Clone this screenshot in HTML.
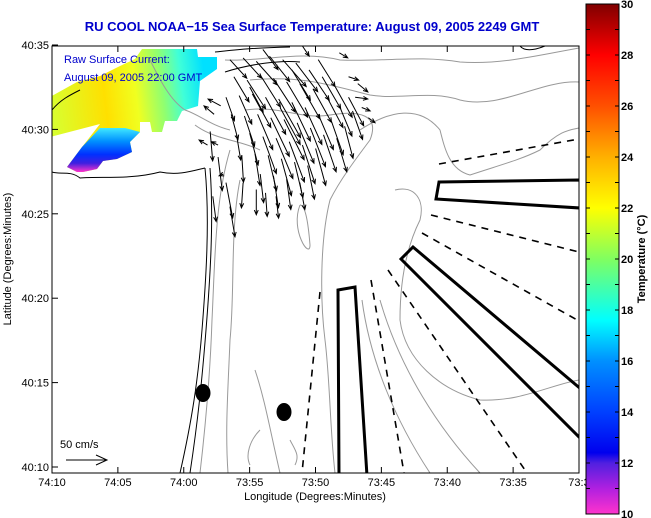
<!DOCTYPE html>
<html><head><meta charset="utf-8"><style>
body{margin:0;background:#fff;width:651px;height:518px;overflow:hidden}
svg{display:block;font-family:"Liberation Sans",sans-serif}
</style></head><body>
<svg width="651" height="518" viewBox="0 0 651 518">
<defs>
<linearGradient id="cb" x1="0" y1="1" x2="0" y2="0">
<stop offset="0" stop-color="#ff33cc"/><stop offset="0.05" stop-color="#b020e0"/><stop offset="0.1" stop-color="#5020e0"/><stop offset="0.12" stop-color="#0000ee"/>
<stop offset="0.2" stop-color="#0040ff"/><stop offset="0.3" stop-color="#0090ff"/><stop offset="0.38" stop-color="#00ffff"/><stop offset="0.5" stop-color="#80ff60"/>
<stop offset="0.6" stop-color="#ffff00"/><stop offset="0.7" stop-color="#ffb000"/><stop offset="0.8" stop-color="#ff5000"/><stop offset="0.9" stop-color="#ff0000"/><stop offset="1" stop-color="#800000"/>
</linearGradient>
<linearGradient id="sstA" gradientUnits="userSpaceOnUse" x1="50" y1="100" x2="205" y2="80">
<stop offset="0" stop-color="#d8ff30"/><stop offset="0.35" stop-color="#ffe000"/><stop offset="0.55" stop-color="#f0ff20"/><stop offset="0.72" stop-color="#90ff70"/><stop offset="0.85" stop-color="#40ffd8"/><stop offset="1" stop-color="#00e0ff"/>
</linearGradient>
<linearGradient id="sstB" gradientUnits="userSpaceOnUse" x1="0" y1="128" x2="0" y2="172">
<stop offset="0" stop-color="#40e8ff"/><stop offset="0.3" stop-color="#0090ff"/><stop offset="0.6" stop-color="#0030ff"/><stop offset="0.8" stop-color="#4020e0"/><stop offset="1" stop-color="#ff33cc"/>
</linearGradient>
<clipPath id="plotclip"><rect x="52" y="46" width="527" height="427"/></clipPath>
</defs>
<text x="312" y="31" text-anchor="middle" font-size="13" font-weight="bold" fill="#0000cc">RU COOL  NOAA−15  Sea Surface Temperature:  August 09, 2005 2249 GMT</text>
<g clip-path="url(#plotclip)">
<polygon fill="url(#sstA)" points="50,97 77,82 100,76 120,66 135,59 142,49 197,49 198,57 217,57 217,69 200,81 198,106 182,111 177,121 165,121 162,132 152,132 150,122 140,122 140,132 130,142 132,152 117,159 103,161 97,169 83,172 77,172 67,167 82,147 100,124 50,137"/>
<polygon fill="url(#sstB)" points="82,147 100,128 125,128 140,132 130,142 132,152 117,159 103,161 97,169 83,172 77,172 67,167"/>
<g fill="none" stroke="#999" stroke-width="1">
<path d="M225,60 C260,62 300,50 340,60 C380,62 420,55 460,62 C500,65 540,55 579,48"/>
<path d="M250,80 C300,75 330,85 370,95 C400,100 430,90 460,100 C500,110 540,80 579,82"/>
<path d="M245,110 C280,105 300,120 330,115 C360,110 380,115 370,140 C355,160 340,180 330,200 C320,240 320,300 325,340 C330,380 330,430 335,473"/>
<path d="M360,130 C390,110 420,105 440,130 C445,150 450,170 470,175 C500,165 520,160 540,150 C560,130 570,130 579,128"/>
<path d="M395,190 C415,185 425,200 420,220 C410,240 400,270 400,320 C405,360 440,390 480,400 C520,402 550,385 579,380"/>
<path d="M230,150 C215,200 215,260 212,320 C210,380 205,430 200,473"/>
<path d="M240,180 C230,230 235,290 230,340 C228,390 225,430 228,473"/>
<path d="M300,205 C290,230 310,260 310,245 C308,220 305,205 300,205"/>
<path d="M362,300 C370,360 395,420 430,473"/>
<path d="M380,300 C400,370 440,430 480,473"/>
<path d="M255,370 C265,400 270,430 280,473 M260,430 C250,440 245,455 250,465 M290,440 C295,450 300,455 295,465"/>
<path d="M150,60 C160,80 170,100 185,110 C200,115 210,125 230,130 M195,125 C215,140 240,140 260,150"/>
</g>
<g fill="none" stroke="#000" stroke-width="1">
<path d="M52,172 C60,175 70,170 80,178 C100,176 130,180 160,172 C180,176 195,170 205,168"/>
<path d="M205,168 C210,220 206,280 202,330 C198,380 192,420 180,473"/>
<path d="M210,168 C214,220 210,280 206,330 C202,380 198,420 190,473"/>
<path d="M52,110 C60,100 70,95 80,90 M215,52 C235,50 250,48 290,47 M225,72 C250,64 280,60 300,62 M520,46 C525,52 535,50 545,46"/>
</g>
</g>
<g id="vecs"></g>
<g fill="none" stroke="#000" stroke-width="3" clip-path="url(#plotclip)">
<polygon points="439,182 580,180 580,208 436,199"/>
<polygon points="401,259 413,247 582,390 582,440"/>
<polygon points="338,290 355,287 367,476 339,476"/>
</g>
<g fill="none" stroke="#000" stroke-width="1.6" stroke-dasharray="7,6">
<line x1="439" y1="164" x2="579" y2="139"/>
<line x1="431" y1="215" x2="579" y2="252"/>
<line x1="422" y1="233" x2="579" y2="321"/>
<line x1="388" y1="270" x2="527" y2="473"/>
<line x1="371" y1="280" x2="404" y2="473"/>
<line x1="320" y1="292" x2="302" y2="473"/>
</g>
<ellipse cx="203" cy="393" rx="7.5" ry="9"/>
<ellipse cx="284" cy="412" rx="7.5" ry="9"/>
<text x="64" y="63" font-size="11" fill="#0000cc">Raw Surface Current:</text>
<text x="64" y="81" font-size="11" fill="#0000cc">August 09, 2005 22:00 GMT</text>
<text x="60" y="448" font-size="11">50 cm/s</text>
<g stroke="#000" fill="none"><line x1="66" y1="460" x2="107" y2="460"/><polyline points="96,455 107,460 96,465"/></g>
<rect x="52" y="46" width="527" height="427" fill="none" stroke="#000" stroke-width="1"/>
<g id="axes" font-size="11"></g>
<text x="315" y="500" text-anchor="middle" font-size="11">Longitude (Degrees:Minutes)</text>
<text transform="translate(11,259) rotate(-90)" text-anchor="middle" font-size="11">Latitude (Degrees:Minutes)</text>
<rect x="586" y="4" width="33" height="510" fill="url(#cb)" stroke="#000"/>
<g id="cbticks" font-size="11" font-weight="bold"></g>
<text transform="translate(645,259) rotate(-90)" text-anchor="middle" font-size="11" font-weight="bold">Temperature (°C)</text>
</svg>
<script>
const xTickLabels=["74:10","74:05","74:00","73:55","73:50","73:45","73:40","73:35","73:3"];
const yTickLabels=["40:10","40:15","40:20","40:25","40:30","40:35"];
const cbLabels=[10,12,14,16,18,20,22,24,26,28,30];
// vectors: minutes east of 74:10, minutes north of 40:10, u, v (cm/s)
const vecLon=[13.5,14.5,15.5,16.5,17.5,18.5,19.5,20.5,21.5,22.5,13.8,14.8,15.8,16.8,17.8,18.8,19.8,20.8,21.8,22.8,13.2,14.2,15.2,16.2,17.2,18.2,19.2,20.2,21.2,22.2,13.6,14.6,15.6,16.6,17.6,18.6,19.6,20.6,21.6,14.0,15.0,16.0,17.0,18.0,19.0,20.0,14.4,15.4,16.4,17.4,18.4,19.4,15.8,16.8,17.8,18.8,14.5,15.5,16.2,17.0,12.8,12.6,13.0,23.5,24.0,23.2,12.0,12.6,13.2,12.2,13.5,11.8,12.3,22.5,23.0,21.8,19.0,16.0,18.2,20.2,15.0,17.3];
const vecLat=[24.2,24.3,24.1,24.4,24.2,24.0,23.6,23.2,22.6,22.0,23.2,23.0,23.3,23.1,22.9,22.8,22.5,22.1,21.5,21.2,22.0,22.1,22.2,22.0,21.9,21.7,21.4,21.0,20.6,20.3,21.0,20.9,21.0,20.8,20.7,20.5,20.2,19.8,19.6,19.8,19.9,19.7,19.6,19.4,19.2,19.0,18.6,18.7,18.6,18.4,18.2,18.0,17.5,17.4,17.2,17.0,17.0,16.6,16.4,16.2,21.5,19.2,17.5,21.4,20.8,22.8,20.0,18.5,17.0,16.2,15.6,19.2,21.0,23.2,22.0,24.6,25.0,24.8,23.6,24.2,22.6,21.4];
const vecU=[20,22,25,24,28,26,24,22,20,18,18,22,24,26,25,24,22,20,15,12,10,15,22,24,26,22,20,18,14,10,8,12,18,22,24,20,18,15,12,5,10,16,20,18,15,12,2,6,10,12,10,8,4,6,5,6,-2,0,2,3,-15,-8,-5,10,8,12,3,5,8,4,6,-10,-12,12,15,10,8,18,22,20,16,24];
const vecV=[-22,-24,-28,-30,-32,-34,-36,-38,-36,-34,-30,-34,-38,-40,-42,-42,-40,-38,-36,-34,-28,-34,-40,-44,-46,-46,-44,-42,-40,-38,-30,-36,-42,-46,-48,-48,-46,-44,-40,-30,-38,-44,-48,-48,-46,-44,-32,-38,-42,-44,-42,-40,-34,-38,-36,-32,-30,-30,-28,-26,8,4,-2,-4,-6,-10,-35,-40,-42,-30,-36,6,10,-4,-2,-6,-12,-24,-36,-32,-30,-44];
const X0=52,PXM=13.18,Y0=473,PYM=17.08,PXS=42/50;
const ns="http://www.w3.org/2000/svg";
function xs(m){return X0+m*PXM}
function ys(n){return Y0-n*PYM}
const vg=document.getElementById('vecs');
for(let i=0;i<vecLon.length;i++){
 const x1=xs(vecLon[i]),y1=ys(vecLat[i]);
 const x2=x1+vecU[i]*PXS,y2=y1-vecV[i]*PXS;
 const a=Math.atan2(y2-y1,x2-x1),h=5;
 const p=document.createElementNS(ns,'path');
 
 
 p.setAttribute('d',`M${x1},${y1}L${x2},${y2}M${x2-h*Math.cos(a-0.4)},${y2-h*Math.sin(a-0.4)}L${x2},${y2}L${x2-h*Math.cos(a+0.4)},${y2-h*Math.sin(a+0.4)}`);
 p.setAttribute('stroke','#000');p.setAttribute('fill','none');p.setAttribute('stroke-width','1');
 vg.appendChild(p);
}
const ax=document.getElementById('axes');
xTickLabels.forEach((t,i)=>{
 const x=X0+i*(527/8);
 const l=document.createElementNS(ns,'line');
 
 
 l.setAttribute('x1',x);l.setAttribute('x2',x);l.setAttribute('y1',473);l.setAttribute('y2',467);l.setAttribute('stroke','#000');ax.appendChild(l);
 const l2=l.cloneNode();l2.setAttribute('y1',46);l2.setAttribute('y2',52);ax.appendChild(l2);
 const tx=document.createElementNS(ns,'text');
 
 
 tx.setAttribute('x',x);tx.setAttribute('y',486);tx.setAttribute('text-anchor','middle');tx.textContent=t;ax.appendChild(tx);
});
yTickLabels.forEach((t,i)=>{
 const y=467-i*(422/5);
 const l=document.createElementNS(ns,'line');
 
 
 l.setAttribute('x1',52);l.setAttribute('x2',58);l.setAttribute('y1',y);l.setAttribute('y2',y);l.setAttribute('stroke','#000');ax.appendChild(l);
 const tx=document.createElementNS(ns,'text');
 
 
 tx.setAttribute('x',49);tx.setAttribute('y',y+4);tx.setAttribute('text-anchor','end');tx.textContent=t;ax.appendChild(tx);
});
const cg=document.getElementById('cbticks');
for(let v=10;v<=30;v++){
 const y=514-(v-10)*25.5;
 const l=document.createElementNS(ns,'path');
 
 
 l.setAttribute('d',`M586,${y}h4M619,${y}h-4`);l.setAttribute('stroke','#000');cg.appendChild(l);
}
cbLabels.forEach(v=>{
 const y=514-(v-10)*25.5;
 const tx=document.createElementNS(ns,'text');
 
 
 tx.setAttribute('x',621);tx.setAttribute('y',y+4);tx.textContent=v;cg.appendChild(tx);
});
</script>
</body></html>
